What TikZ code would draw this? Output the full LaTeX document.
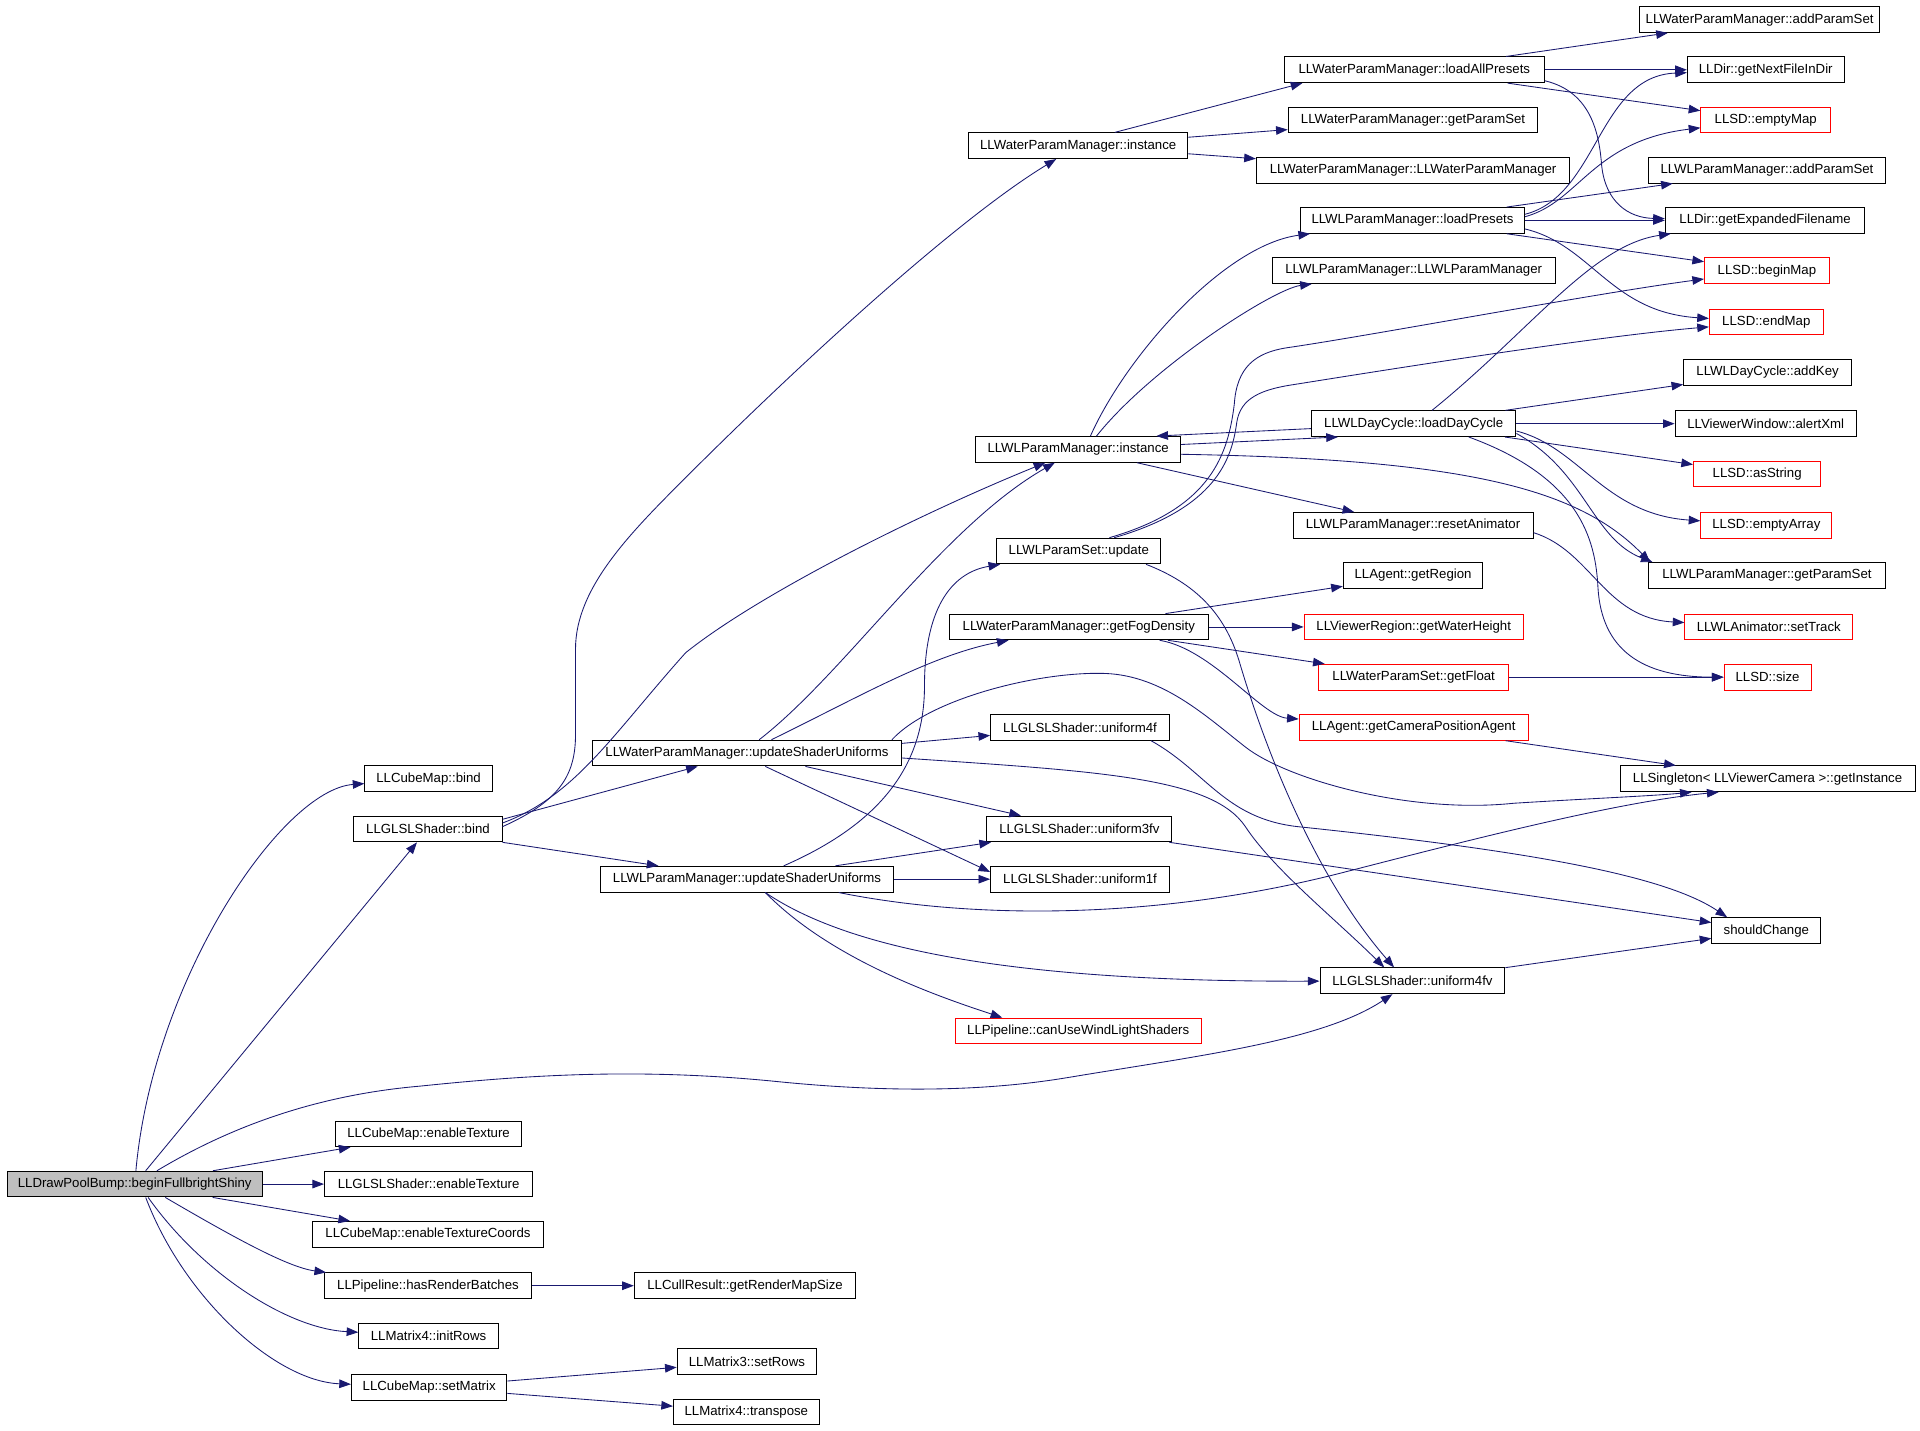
\documentclass[tikz,border=0pt]{standalone}
\usepackage{fontspec}
\setmainfont{Liberation Sans}
\usepackage{tikz}
\usetikzlibrary{arrows.meta,positioning}

\definecolor{edgeblue}{RGB}{25,25,112}
\definecolor{rootgray}{RGB}{191,191,191}

\begin{document}
\begin{tikzpicture}[x=1pt,y=-1pt,
    box/.style={draw,rectangle,inner sep=0pt,minimum height=21pt,line width=0.8pt,
        font=\fontsize{10.8}{12}\selectfont},
    redbox/.style={box,draw=red},
    call/.style={draw=edgeblue,line width=0.7pt,-{Triangle[length=9.5pt,width=7pt]}}]
    \useasboundingbox (0,0) rectangle (1568,1168.6);

    \node[box,fill=rootgray,minimum width=208pt] (begin) at (110,967) {LLDrawPoolBump::beginFullbrightShiny};

    \node[box,minimum width=104pt] (cbind) at (350,636) {LLCubeMap::bind};
    \node[box,minimum width=121pt] (gbind) at (349.5,677) {LLGLSLShader::bind};
    \node[box,minimum width=152pt] (cet) at (350,926) {LLCubeMap::enableTexture};
    \node[box,minimum width=170pt] (get) at (350,967) {LLGLSLShader::enableTexture};
    \node[box,minimum width=189pt] (cetc) at (349.5,1008) {LLCubeMap::enableTextureCoords};
    \node[box,minimum width=169pt] (hrb) at (349.5,1050) {LLPipeline::hasRenderBatches};
    \node[box,minimum width=114pt] (m4ir) at (350,1091) {LLMatrix4::initRows};
    \node[box,minimum width=127pt] (csm) at (350.5,1133) {LLCubeMap::setMatrix};

    \node[box,minimum width=181pt] (grms) at (608.5,1050) {LLCullResult::getRenderMapSize};
    \node[box,minimum width=114pt] (m3sr) at (610,1112) {LLMatrix3::setRows};
    \node[box,minimum width=119pt] (m4tr) at (609.5,1153) {LLMatrix4::transpose};
    \node[box,minimum width=252pt] (wpmusu) at (610,615) {LLWaterParamManager::updateShaderUniforms};
    \node[box,minimum width=240pt] (wlpmusu) at (610,718) {LLWLParamManager::updateShaderUniforms};

    \node[box,minimum width=179pt] (wpmi) at (880.5,119) {LLWaterParamManager::instance};
    \node[box,minimum width=167pt] (wlpmi) at (880.5,367) {LLWLParamManager::instance};
    \node[box,minimum width=134pt] (wlpsu) at (881,450) {LLWLParamSet::update};
    \node[box,minimum width=212pt] (gfd) at (881,512) {LLWaterParamManager::getFogDensity};
    \node[box,minimum width=146pt] (u4f) at (882,594) {LLGLSLShader::uniform4f};
    \node[box,minimum width=151pt] (u3fv) at (881.5,677) {LLGLSLShader::uniform3fv};
    \node[box,minimum width=146pt] (u1f) at (882,718) {LLGLSLShader::uniform1f};
    \node[redbox,minimum width=201pt] (cuwls) at (880.5,842) {LLPipeline::canUseWindLightShaders};

    \node[box,minimum width=212pt] (wlap) at (1155,57) {LLWaterParamManager::loadAllPresets};
    \node[box,minimum width=204pt] (wgps) at (1154,98) {LLWaterParamManager::getParamSet};
    \node[box,minimum width=256pt] (wctor) at (1154,139) {LLWaterParamManager::LLWaterParamManager};
    \node[box,minimum width=183pt] (wllp) at (1153.5,180) {LLWLParamManager::loadPresets};
    \node[box,minimum width=231pt] (wlctor) at (1154.5,221) {LLWLParamManager::LLWLParamManager};
    \node[box,minimum width=167pt] (ldc) at (1154.5,346) {LLWLDayCycle::loadDayCycle};
    \node[box,minimum width=196pt] (ra) at (1154,429) {LLWLParamManager::resetAnimator};
    \node[box,minimum width=114pt] (agr) at (1154,470) {LLAgent::getRegion};
    \node[redbox,minimum width=179pt] (gwh) at (1154.5,512) {LLViewerRegion::getWaterHeight};
    \node[redbox,minimum width=155pt] (gfl) at (1154.5,553) {LLWaterParamSet::getFloat};
    \node[redbox,minimum width=187pt] (gcpa) at (1154.5,594) {LLAgent::getCameraPositionAgent};
    \node[box,minimum width=151pt] (u4fv) at (1153.5,801) {LLGLSLShader::uniform4fv};

    \node[box,minimum width=196pt] (waps) at (1437,16) {LLWaterParamManager::addParamSet};
    \node[box,minimum width=128pt] (gnfd) at (1442,57) {LLDir::getNextFileInDir};
    \node[redbox,minimum width=106pt] (emap) at (1442,98) {LLSD::emptyMap};
    \node[box,minimum width=194pt] (wlaps) at (1443,139) {LLWLParamManager::addParamSet};
    \node[box,minimum width=163pt] (gef) at (1441.5,180) {LLDir::getExpandedFilename};
    \node[redbox,minimum width=102pt] (bmap) at (1443,221) {LLSD::beginMap};
    \node[redbox,minimum width=93pt] (endm) at (1442.5,263) {LLSD::endMap};
    \node[box,minimum width=137pt] (addk) at (1443.5,304) {LLWLDayCycle::addKey};
    \node[box,minimum width=148pt] (axml) at (1442,346) {LLViewerWindow::alertXml};
    \node[redbox,minimum width=104pt] (asstr) at (1435,387) {LLSD::asString};
    \node[redbox,minimum width=107pt] (earr) at (1442.5,429) {LLSD::emptyArray};
    \node[box,minimum width=194pt] (wlgps) at (1443,470) {LLWLParamManager::getParamSet};
    \node[redbox,minimum width=137pt] (strk) at (1444.5,512) {LLWLAnimator::setTrack};
    \node[redbox,minimum width=71pt] (lsize) at (1443.5,553) {LLSD::size};
    \node[box,minimum width=241pt] (sgi) at (1443.5,636) {LLSingleton< LLViewerCamera >::getInstance};
    \node[box,minimum width=89pt] (sch) at (1442.5,760) {shouldChange};

    % root
    \draw[call] (begin) .. controls (125,800) and (230,645) .. (cbind);
    \draw[call] (begin) -- (gbind);
    \draw[call] (begin) .. controls (180,925) and (250,895) .. (343,887) .. controls (430,878) and (520,872) .. (632,883)
        .. controls (720,892) and (800,892) .. (872,880) .. controls (980,862) and (1080,850) .. (u4fv);
    \draw[call] (begin) -- (cet);
    \draw[call] (begin) -- (get);
    \draw[call] (begin) -- (cetc);
    \draw[call] ([xshift=25pt]begin.south) .. controls (190,1010) and (235,1035) .. (hrb);
    \draw[call] ([xshift=11pt]begin.south) .. controls (165,1040) and (235,1085) .. (m4ir);
    \draw[call] ([xshift=9pt]begin.south) .. controls (150,1060) and (225,1128) .. (csm);
    \draw[call] (hrb) -- (grms);
    \draw[call] (csm) -- (m3sr);
    \draw[call] (csm) -- (m4tr);

    % LLGLSLShader::bind
    \draw[call] ([yshift=-3pt]gbind.north east) -- (wpmusu);
    \draw[call] ([yshift=-6pt]gbind.north east) .. controls (470,650) and (500,600) .. (560,533)
        .. controls (620,485) and (750,420) .. (wlpmi);
    \draw[call] ([yshift=-9pt]gbind.north east) .. controls (455,655) and (470,635) .. (470,600) -- (470,530)
        .. controls (470,480) and (515,435) .. (560,390) .. controls (650,300) and (780,180) .. (wpmi);
    \draw[call] (gbind.south east) -- (wlpmusu);

    % update uniforms
    \draw[call] ([xshift=10pt]wpmusu.north) .. controls (690,550) and (770,430) .. (wlpmi);
    \draw[call] ([xshift=20pt]wpmusu.north) .. controls (700,570) and (760,535) .. (gfd);
    \draw[call] ([yshift=-3pt]wpmusu.north east) -- (u4f);
    \draw[call] (wpmusu) -- (u3fv);
    \draw[call] ([xshift=15pt]wpmusu.south) -- ([yshift=-5pt]u1f.north west);
    \draw[call] ([xshift=-8pt]wpmusu.north east) .. controls (760,570) and (850,548) .. (903,550)
        .. controls (950,552) and (985,585) .. (1017,610) .. controls (1050,636) and (1150,665) .. (1236,656)
        .. controls (1300,652) and (1350,650) .. ([xshift=-62pt]sgi.south);
    \draw[call] ([yshift=-4pt]wpmusu.east) .. controls (900,630) and (990,635) .. (1017,675)
        .. controls (1040,710) and (1090,750) .. ([xshift=-23pt]u4fv.north);

    \draw[call] ([xshift=30pt]wlpmusu.north) .. controls (725,670) and (755,620) .. (755,560)
        .. controls (755,500) and (775,468) .. (wlpsu);
    \draw[call] (wlpmusu) -- (u3fv);
    \draw[call] (wlpmusu) -- (u1f);
    \draw[call] ([xshift=75pt]wlpmusu.south) .. controls (800,752) and (950,750) .. (1095,713)
        .. controls (1200,686) and (1320,655) .. ([xshift=-40pt]sgi.south);
    \draw[call] ([xshift=15pt]wlpmusu.south) .. controls (700,780) and (850,802) .. (u4fv);
    \draw[call] ([xshift=15pt]wlpmusu.south) .. controls (680,785) and (770,815) .. ([xshift=-62pt]cuwls.north);

    % water manager
    \draw[call] (wpmi.20) -- ([xshift=15pt]wlap.south west);
    \draw[call] (wpmi) -- (wgps);
    \draw[call] (wpmi) -- (wctor);
    \draw[call] (wlap) -- (waps);
    \draw[call] (wlap) -- (gnfd);
    \draw[call] (wlap) -- (emap);
    \draw[call] ([yshift=2pt]wlap.south east) .. controls (1300,75) and (1306,110) .. (1308,135)
        .. controls (1311,165) and (1330,178) .. (gef);

    % windlight manager
    \draw[call] ([xshift=10pt]wlpmi.north) .. controls (920,290) and (1000,200) .. (wllp);
    \draw[call] ([xshift=15pt]wlpmi.north) .. controls (940,300) and (1040,236) .. (wlctor);
    \draw[call] (wlpmi) -- ([xshift=22pt]ldc.south west);
    \draw[call] (ldc) -- ([xshift=-20pt]wlpmi.north east);
    \draw[call] (wlpmi) -- (ra);
    \draw[call] ([yshift=-4pt]wlpmi.east) .. controls (1200,375) and (1290,400) .. ([xshift=2pt]wlgps.north west);

    \draw[call] (wllp) -- (wlaps);
    \draw[call] (wllp) -- (gef);
    \draw[call] (wllp) -- (bmap);
    \draw[call] ([yshift=-7pt]wllp.east) .. controls (1300,200) and (1315,255) .. (endm);
    \draw[call] ([yshift=5pt]wllp.east) .. controls (1305,160) and (1305,62) .. (gnfd);
    \draw[call] ([yshift=3pt]wllp.east) .. controls (1290,165) and (1300,115) .. (emap);

    \draw[call] (ldc) -- (addk);
    \draw[call] (ldc) -- (axml);
    \draw[call] (ldc) -- (asstr);
    \draw[call] ([yshift=-6pt]ldc.east) .. controls (1290,365) and (1310,420) .. (earr);
    \draw[call] ([yshift=-8pt]ldc.east) .. controls (1295,385) and (1300,440) .. ([xshift=4pt]wlgps.north west);
    \draw[call] ([xshift=15pt]ldc.north) .. controls (1250,270) and (1300,200) .. (gef);
    \draw[call] ([xshift=45pt]ldc.south) .. controls (1290,390) and (1303,440) .. (1305,480)
        .. controls (1308,530) and (1340,553) .. (lsize);
    \draw[call] ([yshift=-6pt]ra.east) .. controls (1300,450) and (1310,505) .. (strk);

    % param set
    \draw[call] ([xshift=25pt]wlpsu.north) .. controls (990,415) and (1003,370) .. (1008,330)
        .. controls (1010,300) and (1025,288) .. (1051,284) .. controls (1120,274) and (1300,240) .. (bmap);
    \draw[call] ([xshift=29pt]wlpsu.north) .. controls (993,415) and (1006,375) .. (1010,345)
        .. controls (1013,325) and (1030,318) .. (1057,314) .. controls (1120,304) and (1300,275) .. (endm);
    \draw[call] ([xshift=55pt]wlpsu.south) .. controls (975,476) and (1000,500) .. (1012,540)
        .. controls (1020,567) and (1060,700) .. ([xshift=-15pt]u4fv.north);

    % fog density
    \draw[call] (gfd) -- (agr);
    \draw[call] (gfd) -- (gwh);
    \draw[call] (gfd) -- (gfl);
    \draw[call] (gfd) .. controls (990,530) and (1030,585) .. (gcpa);
    \draw[call] (gfl) -- (lsize);
    \draw[call] (gcpa) -- (sgi);

    % uniforms
    \draw[call] ([xshift=58pt]u4f.south) .. controls (985,630) and (1000,668) .. (1059,675)
        .. controls (1250,695) and (1360,715) .. ([xshift=-32pt]sch.north);
    \draw[call] (u3fv) -- (sch);
    \draw[call] (u4fv) -- (sch);
\end{tikzpicture}
\end{document}
